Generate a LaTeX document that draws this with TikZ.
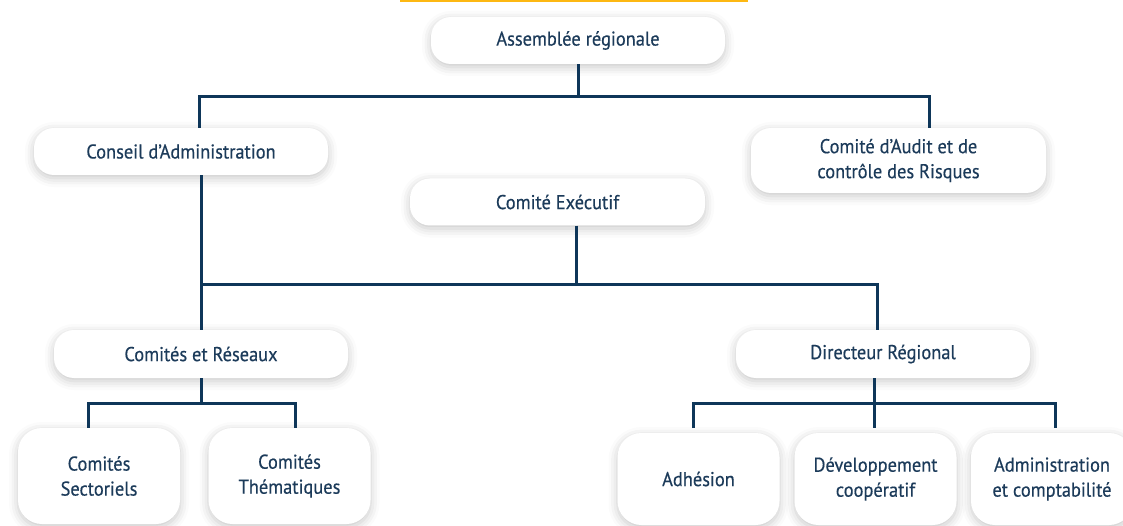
\documentclass[tikz,border=0pt]{standalone}
\usepackage{fontspec}
\setmainfont[FakeStretch=0.92,FakeBold=0.4]{PT Sans}
\usetikzlibrary{shadows.blur}
\definecolor{navy}{HTML}{0E3659}
\definecolor{inkblue}{HTML}{1C3B5A}
\definecolor{goldbar}{HTML}{FDB813}
\tikzset{
  unit/.style={fill=white,rounded corners=20pt,align=center,text=inkblue,
    font=\fontsize{20}{25}\selectfont,inner sep=0pt,
    blur shadow={shadow xshift=0pt,shadow yshift=-3pt,shadow blur radius=9pt,shadow opacity=22}},
  wide/.style={unit,minimum width=294pt,minimum height=47pt},
  tall/.style={unit,minimum width=162pt,minimum height=92pt,rounded corners=24pt},
  link/.style={draw=navy,line width=3pt}
}
\begin{document}
\begin{tikzpicture}[x=1pt,y=-1pt]
\useasboundingbox (0,0) rectangle (1123,526);
\fill[goldbar] (400,0) rectangle (748,2.5);

\node[wide] (ar) at (578,40.5) {Assemblée régionale};
\node[wide] (ca) at (181,151.5) {Conseil d'Administration};
\node[wide,minimum width=295pt,minimum height=65pt] (aud) at (898.5,160.5) {Comité d'Audit et de\\contrôle des Risques};
\node[wide,minimum width=295pt] (ce) at (557.5,202) {Comité Exécutif};
\node[wide,minimum height=48pt] (cer) at (201,354) {Comités et Réseaux};
\node[wide,minimum height=48pt] (dr) at (883,354) {Directeur Régional};

\node[tall,minimum height=96pt] (cs) at (99,476) {Comités\\Sectoriels};
\node[tall,minimum height=96pt] (cth) at (289.5,476) {Comités\\Thématiques};
\node[tall] (adh) at (698.5,479) {Adhésion};
\node[tall] (dev) at (875.5,479) {Développement\\coopératif};
\node[tall] (adm) at (1052,479) {Administration\\et comptabilité};

\coordinate (topl) at (199,97);
\coordinate (topr) at (929,97);
\draw[link] (ar.south) -- (ar.south |- topl);
\draw[link] (ca.north -| topl) |- (topr) -- (topr |- aud.north);

\coordinate (cej) at (576,285);
\coordinate (drj) at (877,285);
\draw[link] (ca.south -| cer.north) -- (cer.north);
\draw[link] (ce.south -| cej) -- (cej);
\draw[link] (cej -| cer.north) -- (drj) -- (drj |- dr.north);

\coordinate (csj) at (88,403);
\coordinate (cthj) at (295,403);
\draw[link] (cer.south) -- (cer.south |- csj);
\draw[link] (cs.north -| csj) -- (csj) -- (cthj) -- (cth.north -| cthj);

\coordinate (adhj) at (693,403);
\coordinate (devj) at (874,403);
\coordinate (admj) at (1055,403);
\coordinate (lowr) at (0,428);
\draw[link] (dr.south -| devj) -- (devj) -- (devj |- lowr);
\draw[link] (adhj |- lowr) -- (adhj) -- (admj) -- (admj |- lowr);
\end{tikzpicture}
\end{document}
